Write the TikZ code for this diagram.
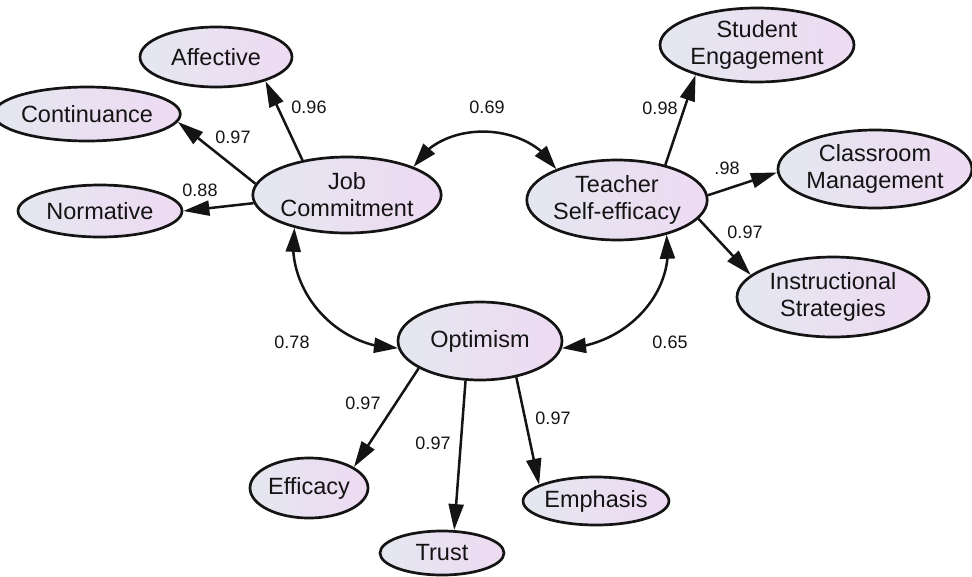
\documentclass[tikz,border=0pt]{standalone}
\usepackage{fontspec}
\setmainfont{Liberation Sans}
\usetikzlibrary{shapes.geometric,arrows.meta,bending}
\definecolor{lcol}{RGB}{228,231,240}
\definecolor{rcol}{RGB}{238,218,242}
\definecolor{ink}{RGB}{20,20,20}
\tikzset{
  var/.style={ellipse, draw=ink, line width=2.7pt, left color=lcol, right color=rcol,
    inner sep=0pt, align=center, text=ink, font=\fontsize{23.5}{27}\selectfont},
  lbl/.style={text=ink, font=\fontsize{18}{20}\selectfont, inner sep=1pt},
  path/.style={draw=ink, line width=2.5pt, -{Triangle[length=26pt,width=15pt]}},
  cov/.style={draw=ink, line width=2.5pt, {Triangle[length=24pt,width=15pt]}-{Triangle[length=24pt,width=15pt]}}
}
\begin{document}
\begin{tikzpicture}[x=1pt,y=-1pt]
\useasboundingbox (0,0) rectangle (972,576);
% nodes
\node[var, minimum width=152pt, minimum height=60pt] (aff) at (216,57) {Affective};
\node[var, minimum width=158pt, minimum height=54pt] (con) at (87,114) {Continuance};
\node[var, minimum width=164pt, minimum height=52pt] (nor) at (100,211) {Normative};
\node[var, minimum width=180pt, minimum height=76pt] (jc) at (347,195) {Job\\Commitment};
\node[var, minimum width=170pt, minimum height=80pt] (tse) at (617,200) {Teacher\\Self-efficacy};
\node[var, minimum width=194pt, minimum height=74pt] (se) at (757,45) {Student\\Engagement};
\node[var, minimum width=194pt, minimum height=78pt] (cm) at (875,169) {Classroom\\Management};
\node[var, minimum width=192pt, minimum height=80pt] (is) at (833,297) {Instructional\\Strategies};
\node[var, minimum width=164pt, minimum height=78pt] (opt) at (480,341) {Optimism};
\node[var, minimum width=118pt, minimum height=60pt] (eff) at (309,488) {Efficacy};
\node[var, minimum width=124pt, minimum height=44pt] (tru) at (442,553) {Trust};
\node[var, minimum width=144pt, minimum height=48pt] (emp) at (596,501) {Emphasis};
% loadings
\draw[path] (jc.142) -- (aff.-26);
\draw[path] (jc.173) -- (con.-5);
\draw[path] (jc.185) -- (nor.0);
\draw[path] (tse.36) -- (se.206);
\draw[path] (tse.3) -- (cm.182);
\draw[path] (tse.-13) -- (is.165);
\draw[path] (opt.204) -- (eff.25);
\draw[path] (opt.-110) -- (tru.62);
\draw[path] (opt.-45) -- (emp.164);
% covariances
\draw[cov] (jc.23) to[out=60,in=120] (tse.153);
\draw[cov] (jc.212) to[out=-100,in=180] (opt.185);
\draw[cov] (tse.-35) to[out=-80,in=0] (opt.-5);
% labels
\node[lbl] (l1) at (309,107) {0.96};
\node[lbl] (l2) at (233,137) {0.97};
\node[lbl] (l3) at (200,190) {0.88};
\node[lbl] (l4) at (487,107) {0.69};
\node[lbl] (l5) at (660,108) {0.98};
\node[lbl] (l6) at (727,168) {.98};
\node[lbl] (l7) at (745,232) {0.97};
\node[lbl] (l8) at (292,342) {0.78};
\node[lbl] (l9) at (670,342) {0.65};
\node[lbl] (l10) at (363,403) {0.97};
\node[lbl] (l11) at (433,443) {0.97};
\node[lbl] (l12) at (553,418) {0.97};
\end{tikzpicture}
\end{document}
